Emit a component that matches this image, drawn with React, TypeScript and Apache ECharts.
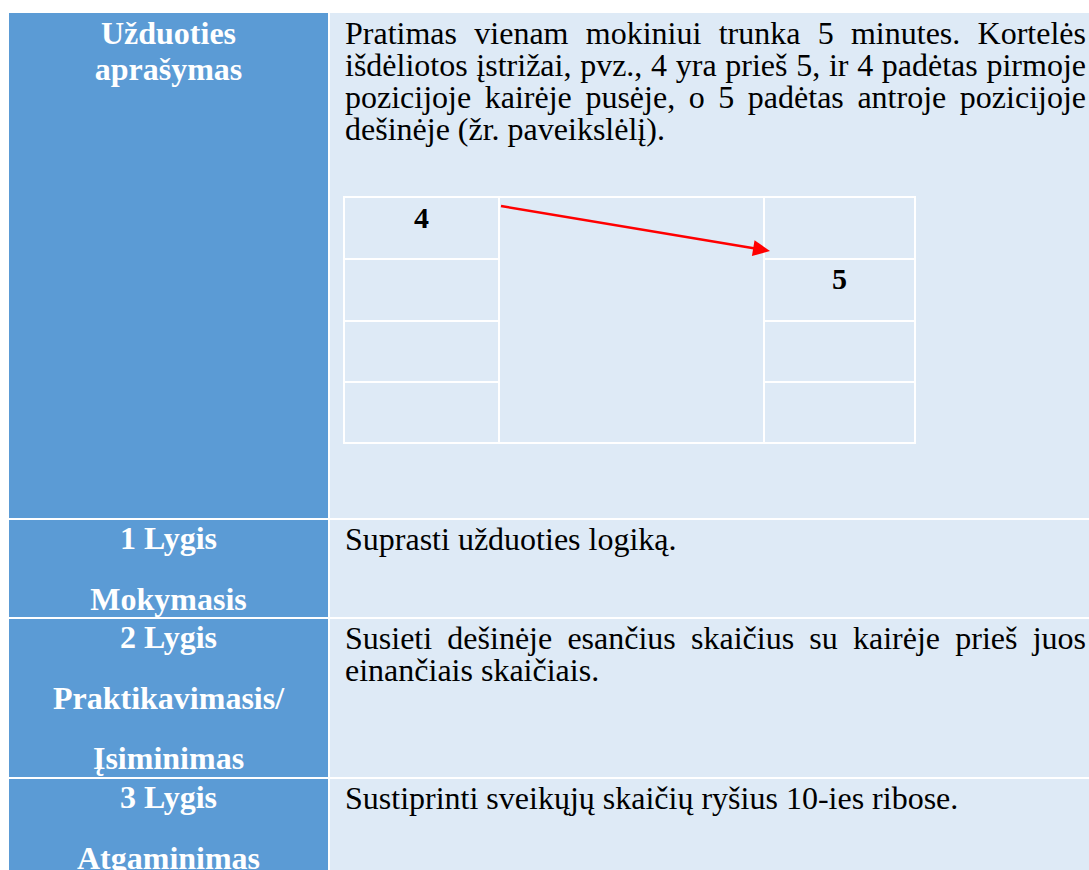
import React, { useEffect, useRef } from "react";
import * as echarts from "echarts";

const headerLabel = ["Užduoties", "aprašymas"];
const descriptionLines = [
  "Pratimas vienam mokiniui trunka 5 minutes. Kortelės",
  "išdėliotos įstrižai, pvz., 4 yra prieš 5, ir 4 padėtas pirmoje",
  "pozicijoje kairėje pusėje, o 5 padėtas antroje pozicijoje",
  "dešinėje (žr. paveikslėlį).",
];
const descriptionJustified = [true, true, true, false];
const levelLabels = [
  ["1 Lygis", "Mokymasis"],
  ["2 Lygis", "Praktikavimasis/", "Įsiminimas"],
  ["3 Lygis", "Atgaminimas"],
];
const levelTexts = [
  ["Suprasti užduoties logiką."],
  ["Susieti dešinėje esančius skaičius su kairėje prieš juos", "einančiais skaičiais."],
  ["Sustiprinti sveikųjų skaičių ryšius 10-ies ribose."],
];
const levelJustified = [[false], [true, false], [false]];
const leftCards = ["4", "", "", ""];
const rightCards = ["", "5", "", ""];

const FONT_FAMILY = "'Liberation Serif', 'Times New Roman', serif";
const DARK = "#5b9bd5";
const LIGHT = "#deeaf6";

export default function App() {
  const ref = useRef<HTMLDivElement>(null);
  useEffect(() => {
    if (!ref.current) return;
    const chart = echarts.init(ref.current, undefined, { renderer: "svg" });
    const canvas = document.createElement("canvas");
    const ctx = canvas.getContext("2d")!;
    ctx.font = "32px 'Liberation Serif'";

    const els: any[] = [];
    const textEl = (text: string, x: number, y: number, opts: any = {}) => ({
      type: "text",
      x,
      y,
      silent: true,
      style: {
        text,
        fontSize: opts.fontSize || 32,
        lineHeight: opts.lineHeight || 30,
        fontFamily: FONT_FAMILY,
        fontWeight: opts.bold ? "bold" : "normal",
        fill: opts.fill || "#000",
        textAlign: opts.align || "left",
        textVerticalAlign: "middle",
      },
    });

    const TEXT_LEFT = 345;
    const TEXT_RIGHT = 1086;
    const pushLine = (line: string, y: number, justify: boolean) => {
      if (!justify) {
        els.push(textEl(line, TEXT_LEFT, y));
        return;
      }
      const words = line.split(" ");
      const widths = words.map((w) => ctx.measureText(w).width);
      const total = widths.reduce((a, b) => a + b, 0);
      const gap = (TEXT_RIGHT - TEXT_LEFT - total) / (words.length - 1);
      let x = TEXT_LEFT;
      words.forEach((w, i) => {
        els.push(textEl(w, x, y));
        x += widths[i] + gap;
      });
    };

    // cell backgrounds
    const rows = [
      { top: 13, bottom: 518 },
      { top: 520, bottom: 617 },
      { top: 619, bottom: 777 },
      { top: 779, bottom: 872 },
    ];
    rows.forEach((r) => {
      els.push({ type: "rect", silent: true, shape: { x: 9, y: r.top, width: 319, height: r.bottom - r.top }, style: { fill: DARK } });
      els.push({ type: "rect", silent: true, shape: { x: 330, y: r.top, width: 760, height: r.bottom - r.top }, style: { fill: LIGHT } });
    });

    // left labels
    headerLabel.forEach((t, i) => els.push(textEl(t, 168.5, 33 + i * 36, { bold: true, fill: "#fff", align: "center" })));
    levelLabels.forEach((lines, li) => {
      const top = rows[li + 1].top;
      lines.forEach((t, i) => els.push(textEl(t, 168.5, top + 18 + i * 60.5, { bold: true, fill: "#fff", align: "center" })));
    });

    // right texts
    descriptionLines.forEach((t, i) => pushLine(t, 32.5 + i * 32, descriptionJustified[i]));
    levelTexts.forEach((lines, li) => {
      const top = rows[li + 1].top;
      lines.forEach((t, i) => pushLine(t, top + 18.5 + i * 32, levelJustified[li][i]));
    });

    // inner cards table
    const cols = [344, 499, 764, 915];
    const cardRows = [197, 259, 321, 382, 443];
    const lineStyle = { stroke: "#fff", lineWidth: 2 };
    const hline = (x1: number, x2: number, y: number) =>
      els.push({ type: "line", silent: true, shape: { x1, y1: y, x2, y2: y }, style: lineStyle });
    const vline = (x: number, y1: number, y2: number) =>
      els.push({ type: "line", silent: true, shape: { x1: x, y1, x2: x, y2 }, style: lineStyle });
    cols.forEach((x) => vline(x, cardRows[0] - 1, cardRows[cardRows.length - 1] + 1));
    hline(cols[0], cols[3], cardRows[0]);
    hline(cols[0], cols[3], cardRows[cardRows.length - 1]);
    cardRows.slice(1, -1).forEach((y) => {
      hline(cols[0], cols[1], y);
      hline(cols[2], cols[3], y);
    });
    leftCards.forEach((t, i) => {
      if (t) els.push(textEl(t, (cols[0] + cols[1]) / 2, cardRows[i] + 20, { bold: true, align: "center", fontSize: 30 }));
    });
    rightCards.forEach((t, i) => {
      if (t) els.push(textEl(t, (cols[2] + cols[3]) / 2, cardRows[i] + 19, { bold: true, align: "center", fontSize: 30 }));
    });

    // arrow
    const sx = 501, sy = 206, ex = 770, ey = 251;
    const len = Math.hypot(ex - sx, ey - sy);
    const ux = (ex - sx) / len, uy = (ey - sy) / len;
    const headLen = 17, headHalf = 8;
    const bx = ex - ux * headLen, by = ey - uy * headLen;
    els.push({ type: "line", silent: true, shape: { x1: sx, y1: sy, x2: bx + ux * 2, y2: by + uy * 2 }, style: { stroke: "#ff0000", lineWidth: 2.5 } });
    els.push({
      type: "polygon",
      silent: true,
      shape: {
        points: [
          [ex, ey],
          [bx - uy * headHalf, by + ux * headHalf],
          [bx + uy * headHalf, by - ux * headHalf],
        ],
      },
      style: { fill: "#ff0000" },
    });

    chart.setOption({ animation: false, graphic: { elements: els } });
    return () => chart.dispose();
  }, []);

  return (
    <div
      ref={ref}
      style={{ position: "absolute", left: 0, top: 0, width: 1089, height: 870, background: "#fff" }}
    />
  );
}
